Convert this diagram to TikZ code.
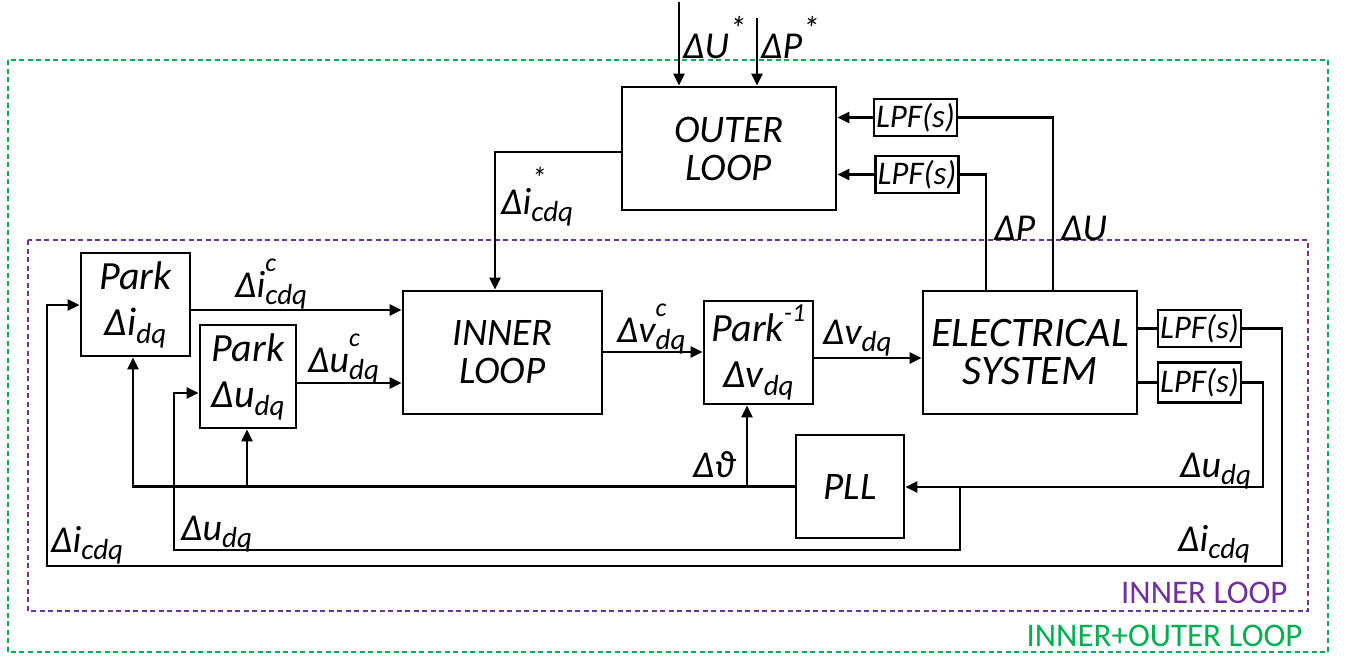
\documentclass[tikz,border=0pt]{standalone}
\usepackage{fontspec}
\setmainfont{Carlito}
\usepackage{tikz}
\usetikzlibrary{arrows.meta, calc, positioning}
\definecolor{loopviolet}{HTML}{7030A0}
\definecolor{loopgreen}{HTML}{00B050}

% label with stacked superscript and subscript
\newcommand{\sx}[2]{\rlap{\raisebox{.68em}{\fontsize{26}{26}\selectfont #2}}\raisebox{-.2em}{\fontsize{29}{29}\selectfont #1}}
\newcommand{\refstar}{\raisebox{.45em}{\fontsize{34}{34}\selectfont *}}

\tikzset{
  blk/.style={draw, line width=2.8pt, fill=white, inner sep=0pt, align=center,
    font=\fontsize{39}{38}\selectfont\itshape},
  lpf/.style={draw, line width=2.8pt, fill=white, inner sep=0pt,
    minimum width=83pt, minimum height=37pt, font=\fontsize{33}{33}\selectfont\itshape},
  lbl/.style={inner sep=0pt, anchor=base west, font=\fontsize{38}{38}\selectfont\itshape},
  wire/.style={line width=2.8pt},
  arr/.style={line width=2.8pt, -{Triangle[length=12pt,width=11pt]}},
  frame/.style={line width=2.8pt, dash pattern=on 5pt off 3.5pt},
}

\begin{document}
\begin{tikzpicture}[x=1pt,y=-1pt]
  \useasboundingbox (0,0) rectangle (1345,657);
  % loop frames
  \draw[frame,loopgreen] (8,60) rectangle (1328,652);
  \draw[frame,loopviolet] (28,240) rectangle (1308,611);
  \node[anchor=base east, text=loopviolet, font=\fontsize{33}{33}\selectfont] (innertxt) at (1291,603) {INNER LOOP};
  \node[anchor=base east, text=loopgreen, font=\fontsize{33}{33}\selectfont] (outertxt) at (1306,646) {INNER+OUTER LOOP};

  % blocks
  \node[blk, minimum width=214pt, minimum height=123pt] (outer) at (729,148.5) {OUTER\\LOOP};
  \node[lpf] (lpfa) at (915.5,117.5) {LPF(s)};
  \node[lpf] (lpfb) at (917,174.5) {LPF(s)};
  \node[blk, minimum width=109pt, minimum height=103pt, font=\fontsize{40}{46}\selectfont\itshape] (parki) at (135.5,304.5) {Park\\Δ\textit{i}\sx{dq}{}};
  \node[blk, minimum width=96pt, minimum height=103pt, font=\fontsize{40}{46}\selectfont\itshape] (parku) at (248,376.5) {Park\\Δ\textit{u}\sx{dq}{}};
  \node[blk, minimum width=199pt, minimum height=123pt] (inner) at (502.5,352.5) {INNER\\LOOP};
  \node[blk, minimum width=109pt, minimum height=103pt, font=\fontsize{40}{46}\selectfont\itshape] (parkinv) at (758.5,352.5) {Park\raisebox{.5em}{\fontsize{26}{26}\selectfont -1}\\Δ\textit{v}\sx{dq}{}};
  \node[blk, minimum width=214pt, minimum height=123pt, font=\fontsize{42}{38}\selectfont\itshape] (elec) at (1030,352.5) {ELECTRICAL\\SYSTEM};
  \node[lpf] (lpfc) at (1199.5,328.5) {LPF(s)};
  \node[lpf, minimum height=40pt] (lpfd) at (1199.5,382.5) {LPF(s)};
  \node[blk, minimum width=108pt, minimum height=103pt] (pll) at (850,486.5) {PLL};

  % references
  \coordinate (uref) at (679,2);
  \coordinate (pref) at (757,18);
  \draw[arr] (uref) -- (uref |- outer.north);
  \draw[arr] (pref) -- (pref |- outer.north);
  \node[lbl] (ulbl) at (683,58) {ΔU\refstar};
  \node[lbl] (plbl) at (761,58) {ΔP\refstar};

  % outer loop feedback
  \draw[arr] (lpfa.west) -- (lpfa.west -| outer.east);
  \draw[arr] (lpfb.west) -- (lpfb.west -| outer.east);
  \draw[wire] (elec.north -| 1053,0) |- (lpfa.east);
  \draw[wire] (elec.north -| 986,0) |- (lpfb.east);
  \node[lbl] (dplbl) at (994,240) {ΔP};
  \node[lbl] (dulbl) at (1061,240) {ΔU};

  % current reference
  \coordinate (iref) at (495,0);
  \draw[arr] (outer.west |- 0,152) -| (iref |- inner.north);
  \node[lbl] (irefl) at (501,214) {Δ\textit{i}\sx{cdq}{\fontsize{30}{30}\selectfont *}};

  % forward path
  \draw[arr] (parki.east |- 0,310) -- (inner.west |- 0,310);
  \node[lbl] (iclbl) at (235,297) {Δ\textit{i}\sx{cdq}{c}};
  \draw[arr] (parku.east |- 0,383) -- (inner.west |- 0,383);
  \node[lbl] (uclbl) at (308,372) {Δ\textit{u}\sx{dq}{c}};
  \draw[arr] (inner.east |- 0,352) -- (parkinv.west |- 0,352);
  \node[lbl] (vclbl) at (617,342) {Δ\textit{v}\sx{dq}{c}};
  \draw[arr] (parkinv.east |- 0,358) -- (elec.west |- 0,358);
  \node[lbl] (vlbl) at (823,344) {Δ\textit{v}\sx{dq}{}};

  % measurements
  \draw[wire] (elec.east |- lpfc.west) -- (lpfc.west);
  \draw[wire] (elec.east |- lpfd.west) -- (lpfd.west);
  \coordinate (ifb) at (1282,566);
  \coordinate (ufb) at (1263,487);
  \coordinate (uspl) at (960,487);
  \draw[arr] (lpfc.east) -| (ifb) -- (47,566) |- (parki.west |- 0,305);
  \draw[arr] (lpfd.east) -| (ufb) -- (pll.east |- ufb);
  \draw[arr] (uspl) |- (174,550) |- (parku.west |- 0,393);
  \node[lbl] (urlbl) at (1180,477) {Δ\textit{u}\sx{dq}{}};
  \node[lbl] (irlbl) at (1178,551) {Δ\textit{i}\sx{cdq}{}};
  \node[lbl] (illbl) at (51,552) {Δ\textit{i}\sx{cdq}{}};
  \node[lbl] (ullbl) at (181,540) {Δ\textit{u}\sx{dq}{}};

  % angle
  \draw[arr] (pll.west) -| (parki.south -| 133,0);
  \draw[arr] (247,487) -- (parku.south -| 247,0);
  \draw[arr] (747,487) -- (parkinv.south -| 747,0);
  \node[lbl] (thlbl) at (693,477) {Δϑ};
\end{tikzpicture}
\end{document}
